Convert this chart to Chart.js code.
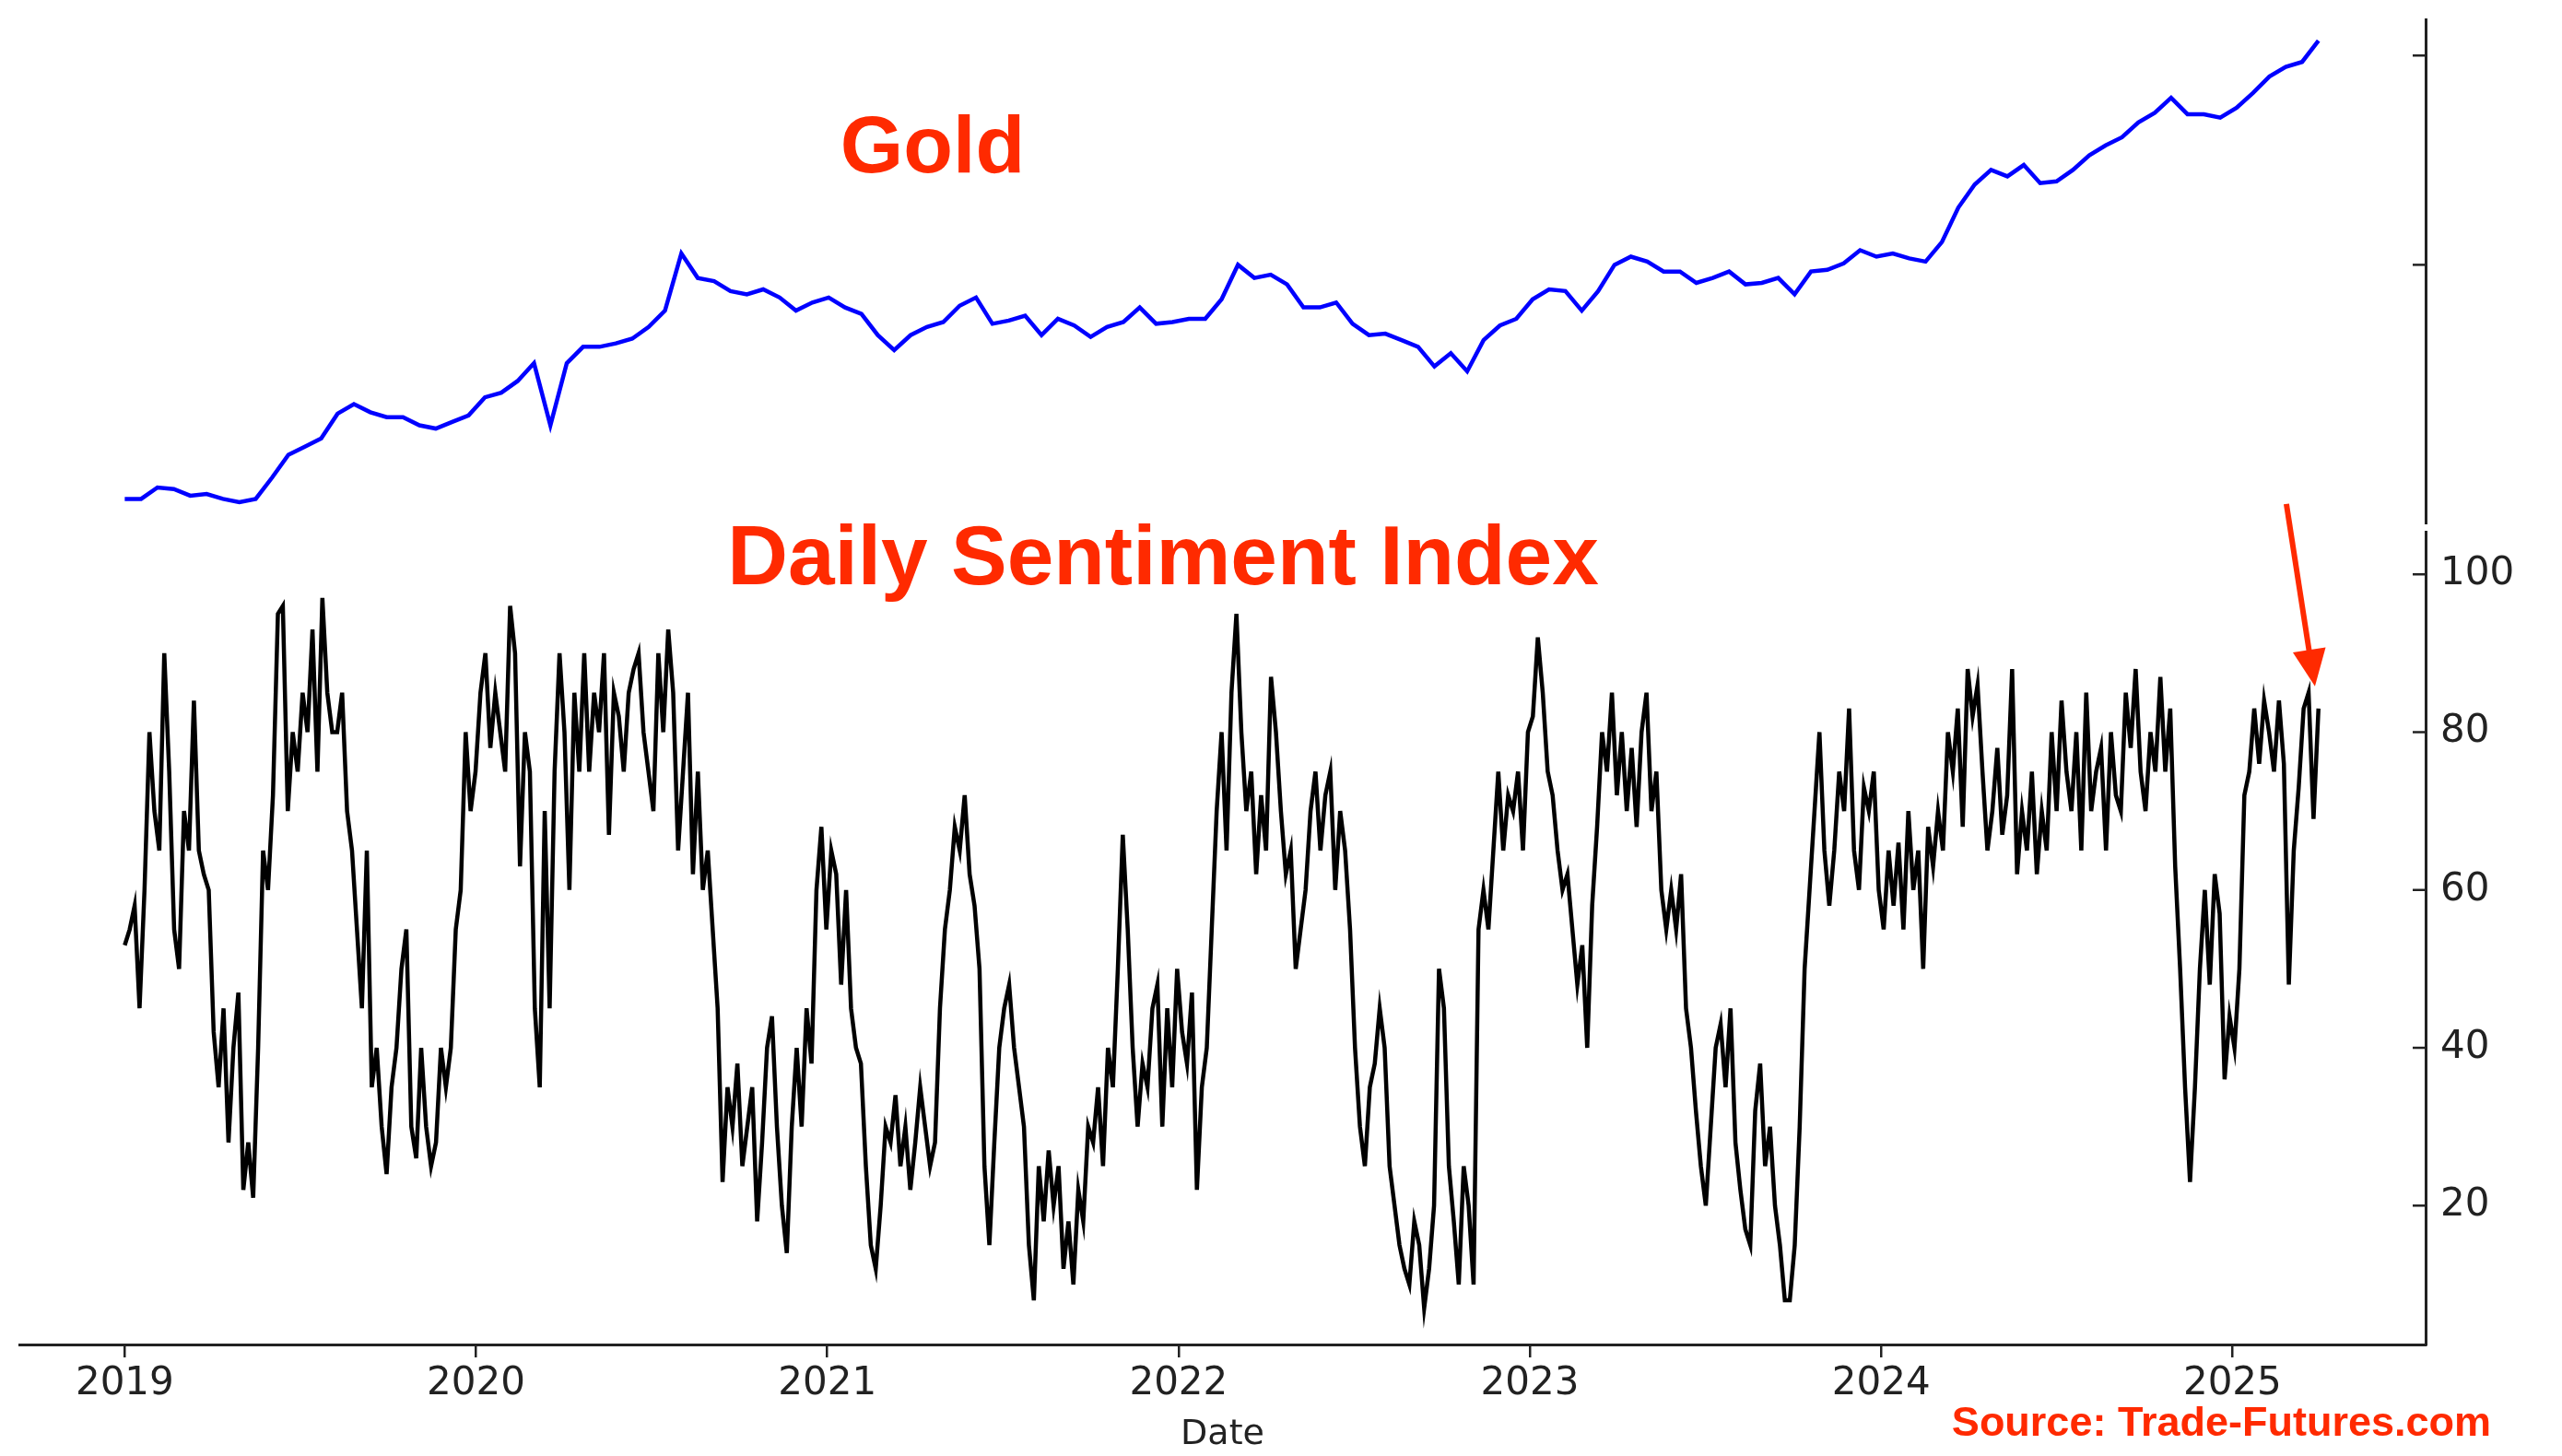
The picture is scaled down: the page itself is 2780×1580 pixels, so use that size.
<!DOCTYPE html>
<html><head><meta charset="utf-8">
<script src="https://cdn.jsdelivr.net/npm/chart.js@4"></script>
<style>body{margin:0;background:#fff;width:2780px;height:1580px;position:relative;overflow:hidden}
.w{position:absolute;left:0;top:0;width:2780px;height:1580px}</style>
</head><body>
<div class="w"><canvas id="c1"></canvas></div>
<div class="w"><canvas id="c2"></canvas></div>
<script>
const startYear = 2019.0, endYear = 2025.245;
const yearTicks = [2019,2020,2021,2022,2023,2024,2025];
const dsiTicks = [20,40,60,80,100];
const goldTicks = [2225,3070];
const dsiValues = [53,55,58,45,60,80,70,65,90,75,55,50,70,65,84,65,62,60,42,35,45,28,40,47,22,28,21,40,65,60,72,95,96,70,80,75,85,80,93,75,97,85,80,80,85,70,65,55,45,65,35,40,30,24,35,40,50,55,30,26,40,30,25,28,40,35,40,55,60,80,70,75,85,90,78,85,80,75,96,90,63,80,75,45,35,70,45,75,90,80,60,85,75,90,75,85,80,90,67,85,82,75,85,88,90,80,75,70,90,80,93,85,65,75,85,62,75,60,65,55,45,23,35,30,38,25,30,35,18,28,40,44,30,20,14,30,40,30,45,38,60,68,55,65,62,48,60,45,40,38,25,15,12,20,30,28,34,25,30,22,28,35,30,25,28,45,55,60,68,65,72,62,58,50,25,15,28,40,45,48,40,35,30,15,8,25,18,27,20,25,12,18,10,22,18,30,28,35,25,40,35,50,67,55,40,30,38,35,45,48,30,45,35,50,42,38,47,22,35,40,55,70,80,65,85,95,80,70,75,62,72,65,87,80,70,62,65,50,55,60,70,75,65,72,75,60,70,65,55,40,30,25,35,38,45,40,25,20,15,12,10,18,15,7,12,20,50,45,25,18,10,25,20,10,55,60,55,65,75,65,72,70,75,65,80,82,92,85,75,72,65,60,62,55,48,53,40,58,68,80,75,85,72,80,70,78,68,80,85,70,75,60,55,60,55,62,45,40,32,25,20,30,40,43,35,45,28,22,17,15,32,38,25,30,20,15,8,8,15,30,50,60,70,80,65,58,65,75,70,83,65,60,73,70,75,60,55,65,58,66,55,70,60,65,50,68,63,70,65,80,75,83,68,88,82,86,75,65,70,78,67,72,88,62,70,65,75,62,70,65,80,70,84,75,70,80,65,85,70,75,78,65,80,72,70,85,78,88,75,70,80,75,87,75,83,63,50,35,23,35,50,60,48,62,57,36,44,40,50,72,75,83,76,84,80,75,84,76,48,65,73,83,85,69,83];
const goldValues = [1280,1280,1326,1320,1293,1300,1280,1267,1280,1366,1458,1491,1524,1624,1663,1630,1610,1610,1577,1564,1591,1617,1690,1709,1756,1828,1577,1828,1894,1894,1908,1927,1974,2040,2271,2172,2159,2119,2106,2126,2093,2040,2073,2093,2053,2027,1941,1881,1941,1974,1994,2060,2093,1987,2000,2020,1941,2007,1980,1934,1974,1994,2053,1987,1994,2007,2007,2086,2225,2172,2185,2146,2053,2053,2073,1987,1941,1947,1921,1894,1815,1868,1795,1921,1980,2007,2086,2126,2119,2040,2119,2225,2258,2238,2198,2198,2152,2172,2198,2146,2152,2172,2106,2198,2205,2231,2284,2258,2271,2251,2238,2317,2456,2549,2608,2582,2628,2555,2562,2608,2667,2707,2740,2800,2839,2899,2833,2833,2819,2859,2919,2985,3024,3044,3130];
function toXY(vals){const n=vals.length;return vals.map((v,i)=>({x:startYear+(endYear-startYear)*i/(n-1),y:v}));}
const FONT='"DejaVu Sans", sans-serif';
const BOLD='"Liberation Sans", Arial, sans-serif';
const RED='#ff2a00';
const xMin=2018.70,xMax=2025.55;
function innerTicks(axisId, vals){return {id:'inTicks'+axisId,afterDraw(c){const s=c.scales[axisId],x=c.chartArea.right,ctx=c.ctx;ctx.save();ctx.strokeStyle='#222';ctx.lineWidth=2.5;vals.forEach(v=>{const y=s.getPixelForValue(v);ctx.beginPath();ctx.moveTo(x-14,y);ctx.lineTo(x,y);ctx.stroke();});ctx.restore();}};}
new Chart(document.getElementById('c1'),{type:'line',
 data:{datasets:[{data:toXY(goldValues),borderColor:'#0000ff',borderWidth:4.5,pointRadius:0,tension:0}]},
 options:{responsive:true,maintainAspectRatio:false,animation:false,layout:{padding:{left:21,top:21,bottom:1012,right:0}},
  plugins:{legend:{display:false},tooltip:{enabled:false}},
  scales:{x:{type:'linear',min:xMin,max:xMax,display:false},
   y:{position:'right',min:1181,max:3216,afterFit(s){s.width=148;},ticks:{display:false},grid:{display:true,drawOnChartArea:false,drawTicks:false},border:{display:true,color:'#222',width:3}}}},
 plugins:[innerTicks('y',goldTicks),{id:'t1',afterDraw(c){const ctx=c.ctx;ctx.save();ctx.fillStyle=RED;ctx.font='bold 88px '+BOLD;ctx.textAlign='center';ctx.textBaseline='middle';ctx.fillText('Gold',1012,163);ctx.restore();}}]
});
new Chart(document.getElementById('c2'),{type:'line',
 data:{datasets:[{data:toXY(dsiValues),borderColor:'#000',borderWidth:4.5,pointRadius:0,tension:0}]},
 options:{responsive:true,maintainAspectRatio:false,animation:false,layout:{padding:{left:21,top:577,bottom:0,right:0}},
  plugins:{legend:{display:false},tooltip:{enabled:false}},
  scales:{x:{type:'linear',min:xMin,max:xMax,afterFit(s){s.height=121;},
    afterBuildTicks(s){s.ticks=yearTicks.map(v=>({value:v}));},
    ticks:{color:'#222',font:{family:FONT,size:42},padding:4,callback:v=>String(v),maxRotation:0},
    title:{display:true,text:'Date',color:'#222',font:{family:FONT,size:38},padding:{top:0,bottom:0}},
    grid:{display:true,drawOnChartArea:false,drawTicks:true,tickLength:14,color:'#222',lineWidth:2.5},border:{display:true,color:'#222',width:3}},
   y:{position:'right',min:2.4,max:105.4,afterFit(s){s.width=148;},
    afterBuildTicks(s){s.ticks=dsiTicks.map(v=>({value:v}));},
    ticks:{color:'#222',font:{family:FONT,size:42},padding:16},
    grid:{display:true,drawOnChartArea:false,drawTicks:false},border:{display:true,color:'#222',width:3}}}},
 plugins:[innerTicks('y',dsiTicks),{id:'t2',afterDraw(c){const ctx=c.ctx,xs=c.scales.x,ys=c.scales.y;ctx.save();ctx.fillStyle=RED;ctx.font='bold 91px '+BOLD;ctx.textAlign='center';ctx.textBaseline='middle';ctx.fillText('Daily Sentiment Index',1262,609);
  ctx.font='bold 45px '+BOLD;ctx.textAlign='right';ctx.fillText('Source: Trade-Futures.com',2703,1546);
  const tx=xs.getPixelForValue(2025.235),ty=ys.getPixelForValue(85.8);const sx=tx-31,sy=ty-198;
  ctx.strokeStyle=RED;ctx.lineWidth=6;ctx.beginPath();ctx.moveTo(sx,sy);ctx.lineTo(tx-5,ty-30);ctx.stroke();
  const a=Math.atan2(ty-sy,tx-sx);ctx.beginPath();ctx.moveTo(tx,ty);ctx.lineTo(tx-40*Math.cos(a)+18*Math.sin(a),ty-40*Math.sin(a)-18*Math.cos(a));ctx.lineTo(tx-40*Math.cos(a)-18*Math.sin(a),ty-40*Math.sin(a)+18*Math.cos(a));ctx.closePath();ctx.fill();
  ctx.restore();}}]
});
</script></body></html>
